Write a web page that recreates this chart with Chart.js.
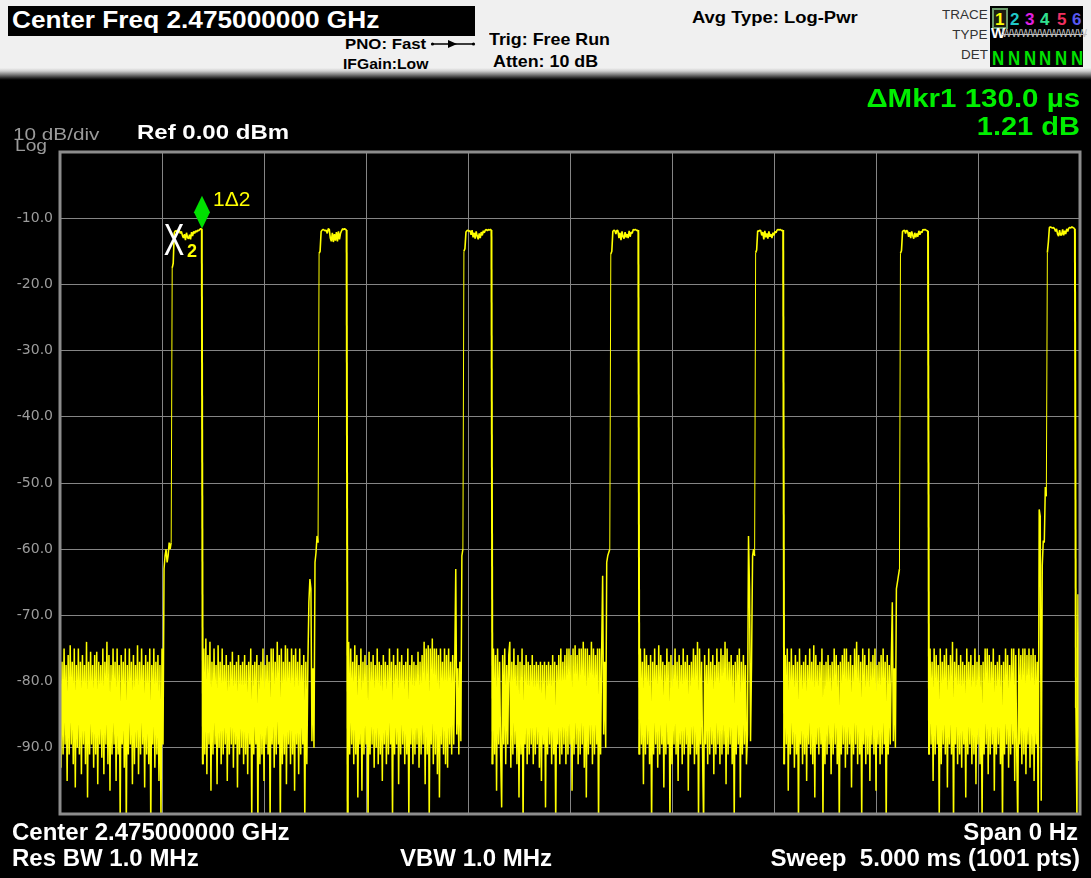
<!DOCTYPE html>
<html>
<head>
<meta charset="utf-8">
<script src="https://cdn.jsdelivr.net/npm/chart.js@4.4.1/dist/chart.umd.min.js"></script>
<style>
  html, body { margin: 0; padding: 0; }
  body { width: 1091px; height: 878px; background: #000; position: relative; overflow: hidden; font-family: 'Liberation Sans', Arial, sans-serif; }
  .t { position: absolute; white-space: pre; }
  #hdr { position: absolute; left: 0; top: 0; width: 1091px; height: 70px; background: #f0f0f0; }
  #bevel { position: absolute; left: 0; top: 68px; width: 1091px; height: 12px;
           background: linear-gradient(to bottom, #f0f0f0 0%, #cfcfcf 25%, #7c7c7c 55%, #222 85%, #000 100%); }
  #freqBox { position: absolute; left: 8px; top: 6px; width: 467px; height: 30px; background: #000; }
  #traceBox { position: absolute; left: 990px; top: 6px; width: 93px; height: 61px; background: #000; }
  #oneBox { position: absolute; left: 992px; top: 8px; width: 12px; height: 17px; border: 2px solid #6a9a6a; background: #1c1c10; }
  #chartWrap { position: absolute; left: 0; top: 100px; width: 1091px; height: 740px; }
</style>
</head>
<body>
<div id="hdr"></div>
<div id="bevel"></div>
<div id="freqBox"></div>
<div id="traceBox"></div>
<div id="oneBox"></div>
<svg style="position:absolute;left:430px;top:39px" width="46" height="10">
  <line x1="2" y1="5" x2="44" y2="5" stroke="#000" stroke-width="1.4"/>
  <polygon points="18,1 27,5 18,9" fill="#000"/>
  <circle cx="2.5" cy="5" r="1.6" fill="#000"/>
  <circle cx="43.5" cy="5" r="1.6" fill="#000"/>
</svg>
<div id="chartWrap"><canvas id="trace" width="1091" height="740"></canvas></div>

<script>
// sweep: 5 ms, 1001 points, one every 5 us
const sweepUs = 5000;
const stepUs = 5;
const gridStepUs = 500;

const yTickLabels = ['-10.0', '-20.0', '-30.0', '-40.0', '-50.0', '-60.0', '-70.0', '-80.0', '-90.0'];

// noise floor between bursts (dBm)
const noiseFloors = [
  [-75, -93, -77, -91, -75, -89.5, -77.5, -95, -76, -91, -74.5, -89.5, -77, -92.5, -75, -96, -77.5, -90, -75, -91,
   -77, -94, -76, -89.5, -77.5, -92.5, -74, -97.5, -77, -91, -75.5, -89.5, -77.5, -93, -76, -91, -75.5, -95.5, -77, -89.5,
   -77.5, -91.5, -75, -94, -77, -89.5, -74, -92.5, -76, -96.5, -77.5, -91, -75, -89.5, -77, -95, -75, -91, -77.5, -101,
   -76, -89.5, -77, -93, -75, -102, -77.5, -91, -75, -89.5, -77, -95.5, -76, -92.5, -77.5, -90, -74.5, -94, -77, -91,
   -75, -89.5, -77.5, -96, -76, -91, -77, -92.5, -75, -102, -77.5, -89.5, -75, -93, -77, -91, -76, -95, -77.5, -101,
   -75, -89.5],
  [-92.5, -75, -91, -73.5, -94, -76, -89.5, -74, -96.5, -77, -91, -75, -89.5, -77.5, -95.5, -74.5, -90, -77, -92.5, -75,
   -91, -77.5, -89.5, -76, -95, -77.5, -91, -77, -89.5, -75.5, -93, -77.5, -89.5, -77, -96, -76, -91, -77.5, -90, -77,
   -92.5, -76, -91, -77.5, -94, -77, -89.5, -75, -101, -77.5, -91, -77, -89.5, -76, -102, -77.5, -92.5, -77, -91, -75,
   -95, -77.5, -89.5, -76, -91, -77, -101, -75, -89.5, -75, -93, -77, -91, -74, -89.5, -76, -102, -75, -92.5, -77,
   -91, -74.5, -95.5, -75, -89.5, -77, -92.5, -75, -91, -76, -96.5, -75, -89.5, -77, -94, -75, -91, -77.5, -89.5, -76,
   -101, -77, -92.5, -77.5],
  [-102, -74, -91, -75, -89.5, -77, -92.5, -74.5, -91, -76, -97.5, -77.5, -89.5, -75, -96.5, -77, -91, -76, -89.5, -77.5,
   -102, -75.5, -91, -77, -89.5, -76, -93, -77.5, -90, -75, -92.5, -77, -91, -77.5, -95, -76, -89.5, -77, -92.5, -77.5,
   -91, -75, -89.5, -77, -101, -76, -91, -77.5, -89.5, -75, -95.5, -77, -91, -76, -89.5, -77.5, -92.5, -77, -91, -75,
   -101, -77.5, -89.5, -76, -92.5, -77, -91, -77.5, -89.5, -75.5, -93, -77, -91, -76, -89.5, -74, -95.5, -75, -91, -74.5,
   -101, -75, -89.5, -73.5, -92.5, -75, -91, -75, -94, -76, -97.5, -75, -89.5, -77, -91, -75, -92.5, -76, -93, -75,
   -89.5, -77, -91, -76, -89.5, -77.5],
  [-92.5, -75, -91, -76, -96.5, -75, -89.5, -77, -91, -99, -76, -89.5, -75, -92.5, -77.5, -89.5, -76, -74, -93, -77,
   -91, -75, -89.5, -77.5, -92.5, -76, -97.5, -77, -91, -75, -102, -77.5, -89.5, -76, -92.5, -77, -91, -77.5, -89.5, -76,
   -92.5, -77.5, -91, -77, -89.5, -77.5, -93, -77, -95, -77.5, -89.5, -77, -99, -77.5, -91, -77, -89.5, -77.5, -92.5, -76,
   -91, -77, -102, -77.5, -89.5, -76, -92.5, -75, -91, -77, -89.5, -76, -92.5, -75, -91, -75, -89.5, -76, -96.5, -75,
   -91, -74.5, -89.5, -76, -92.5, -75, -91, -75, -89.5, -74, -93, -75, -97.5, -75, -91, -76, -89.5, -74, -92.5, -75,
   -91, -76, -89.5, -75, -102, -75, -91, -76],
  [-91, -75, -89.5, -77, -95.5, -75, -91, -76, -89.5, -77.5, -92.5, -76, -102, -77, -91, -75, -89.5, -77.5, -93, -74.5,
   -91, -76, -89.5, -77, -96, -77.5, -91, -75, -89.5, -77, -102, -76, -92.5, -77.5, -89.5, -75, -91, -77, -95, -76,
   -89.5, -77.5, -92.5, -75, -91, -77, -89.5, -76, -96.5, -77.5, -91, -77, -89.5, -75, -92.5, -76, -91, -74, -101, -75,
   -89.5, -77, -91, -102, -76, -89.5, -77.5, -92.5, -75, -91, -77, -89.5, -76, -94, -77.5, -91, -75, -89.5, -77, -92.5,
   -75, -91, -76, -89.5, -74, -95.5, -75, -91, -77, -89.5, -76, -92.5, -77.5, -101, -77, -91, -76, -89.5, -75, -97.5,
   -77, -91, -76, -89.5, -77.5, -92.5],
  [-92.5, -76, -89.5, -75, -96.5, -77, -91, -75, -89.5, -77.5, -93, -76, -91, -77, -102, -75, -89.5, -77.5, -92.5, -77,
   -91, -76, -95, -77.5, -89.5, -75, -91, -77, -92.5, -74.5, -97.5, -76, -89.5, -77.5, -91, -77, -89.5, -75, -101, -77.5,
   -92.5, -77, -91, -76, -89.5, -77.5, -94, -77, -91, -75, -89.5, -76, -92.5, -77.5, -102, -77, -91, -76, -89.5, -75,
   -93, -75, -91, -77, -89.5, -76, -96, -77.5, -91, -75, -89.5, -74, -92.5, -76, -91, -77, -101, -75, -89.5, -76,
   -92.5, -77.5, -91, -75, -95, -77, -89.5, -76, -91, -75, -96.5, -77.5, -89.5, -77, -92.5, -76, -91, -75, -89.5, -77,
   -102, -76, -91, -77.5, -89.5, -77],
  [-91, -75, -89.5, -77, -95, -75, -91, -76, -89.5, -77.5, -101, -75, -92.5, -77, -89.5, -76, -91, -75, -96, -77.5,
   -89.5, -76, -91, -74, -102, -77, -89.5, -75, -92.5, -77.5, -91, -76, -93, -77, -89.5, -77.5, -97.5, -75, -91, -77,
   -89.5, -76, -92.5, -77.5, -91, -75, -95.5, -77, -89.5, -76, -92.5, -77.5, -101, -77, -91, -75, -89.5, -75, -94, -76,
   -91, -77, -89.5, -75, -96.5, -77.5, -91, -77, -89.5, -76, -92.5, -77.5, -102, -77, -91, -75, -89.5, -76, -93, -77.5,
   -91, -75, -89.5, -75, -95, -76, -91, -102, -75, -89.5, -76, -92.5, -75, -91, -75, -94, -76, -89.5, -75, -93,
   -76, -91, -75, -95, -76, -89.5, -77, -102]
];

// small steps just before each burst rises
const leadIns = [
  [-63, -61, -60, -62, -61, -59, -60, -59],
  [-68, -64.5, -66, -89, -78, -90, -62, -60.5, -58, -59],
  [-63, -88, -78, -91, -77, -89, -61, -60],
  [-64, -88, -77, -90, -62, -61, -60.5, -60],
  [-88, -58, -66, -89, -77, -61, -60, -61],
  [-68, -89, -78, -90, -66, -65, -64, -63],
  [-54, -55, -98, -62.5, -58.7, -59, -50.6, -52]
];

// burst rise + flat top
const pulseTops = [
  [-17.5, -16.8, -12.2, -11.9, -12.0, -11.8, -12.1, -11.9, -12.3, -12.0, -12.6, -13.0, -12.4, -13.3, -12.2,
   -12.9, -13.1, -12.5, -13.2, -12.1, -12.7, -12.0, -12.3, -11.9, -12.1, -11.8, -11.9, -11.7, -11.6, -11.6],
  [-15.3, -15.0, -12.0, -11.8, -11.7, -11.8, -11.9, -11.8, -12.3, -11.6, -11.7, -13.0, -13.5, -12.2,
   -13.6, -12.4, -13.4, -12.1, -13.5, -12.0, -13.2, -12.3, -11.9, -11.6, -11.7, -11.6, -11.7, -11.8],
  [-15.0, -14.6, -12.1, -11.9, -11.8, -12.0, -11.9, -12.5, -11.8, -12.9, -12.2, -13.1, -12.0, -12.7,
   -13.2, -12.3, -13.0, -12.1, -12.6, -11.9, -12.2, -11.8, -11.7, -11.9, -11.7, -11.8, -11.7, -11.8],
  [-15.4, -15.0, -12.0, -11.8, -11.9, -12.4, -11.8, -11.9, -13.0, -12.2, -13.3, -12.0, -12.8, -13.1,
   -12.1, -12.9, -12.4, -13.0, -11.9, -12.8, -12.1, -12.3, -11.7, -11.8, -11.7, -11.8, -11.9, -11.8],
  [-15.2, -14.8, -11.9, -12.0, -11.8, -11.9, -12.6, -12.1, -13.2, -11.9, -12.9, -12.3, -13.1, -12.0,
   -12.8, -12.4, -13.0, -12.2, -12.6, -12.0, -12.2, -11.8, -11.7, -11.8, -11.7, -11.8, -11.9, -11.8],
  [-15.3, -14.9, -12.0, -11.9, -11.8, -12.3, -11.8, -12.0, -12.8, -12.1, -13.0, -12.0, -12.6, -13.1,
   -12.2, -12.9, -12.3, -12.8, -11.9, -12.5, -12.0, -12.2, -11.7, -11.8, -11.7, -11.8, -11.9, -11.9],
  [-15.2, -13.6, -11.4, -11.3, -11.4, -11.5, -11.4, -11.6, -12.0, -11.6, -12.4, -12.7, -11.8, -12.6,
   -12.5, -11.7, -12.6, -11.9, -12.4, -11.6, -12.0, -11.5, -11.4, -11.5, -11.3, -11.4, -11.5, -11.6]
];

const tailDbm = [-84, -101, -66.8, -92, -64.8];

// markers: [1 (delta), 2 (reference)]
const markerUs = [696, 566];
const markerDbm = [-11.6, -12.81];

const traceDbm = [];
for (let k = 0; k < noiseFloors.length; k++) {
    traceDbm.push(...noiseFloors[k], ...leadIns[k], ...pulseTops[k]);
}
traceDbm.push(...tailDbm);
const tracePoints = traceDbm.map((v, i) => ({ x: i * stepUs, y: v }));

// text around the screen
const screenText = [
    { text: 'Center Freq 2.475000000 GHz', x: 12, base: 28.5, size: 23, bold: true, color: '#fff', sx: 1.14 },
    { text: 'PNO: Fast', x: 345, base: 49.3, size: 14, bold: true, color: '#000', sx: 1.2 },
    { text: 'IFGain:Low', x: 343, base: 69.3, size: 14, bold: true, color: '#000', sx: 1.12 },
    { text: 'Trig: Free Run', x: 489, base: 45, size: 17, bold: true, color: '#000', sx: 1.05 },
    { text: 'Atten: 10 dB', x: 493, base: 67.7, size: 17, bold: true, color: '#000', sx: 1.05 },
    { text: 'Avg Type: Log-Pwr', x: 692, base: 23.3, size: 16, bold: true, color: '#000', sx: 1.15 },
    { text: 'TRACE', x: 987.5, base: 19.3, size: 12, color: '#333', sx: 1.12, right: true },
    { text: 'TYPE', x: 987.5, base: 38.7, size: 12, color: '#333', sx: 1.12, right: true },
    { text: 'DET', x: 987.5, base: 58.7, size: 12, color: '#333', sx: 1.12, right: true },
    { text: '1', x: 995, base: 25, size: 17, bold: true, color: '#ffff00' },
    { text: '2', x: 1010, base: 25, size: 17, bold: true, color: '#20c8c8' },
    { text: '3', x: 1025, base: 25, size: 17, bold: true, color: '#e020e0' },
    { text: '4', x: 1040, base: 25, size: 17, bold: true, color: '#30e090' },
    { text: '5', x: 1057, base: 25, size: 17, bold: true, color: '#f03060' },
    { text: '6', x: 1072, base: 25, size: 17, bold: true, color: '#5858f0' },
    { text: 'W', x: 991, base: 38, size: 15, bold: true, color: '#fff' },
    { text: 'WWWWWWWWW', x: 1002, base: 37.5, size: 10, color: '#c0c0c0', strike: true },
    { text: 'N', x: 992, base: 65, size: 21, bold: true, color: '#00e000', sx: 0.8 },
    { text: 'N', x: 1007.8, base: 65, size: 21, bold: true, color: '#00e000', sx: 0.8 },
    { text: 'N', x: 1023.6, base: 65, size: 21, bold: true, color: '#00e000', sx: 0.8 },
    { text: 'N', x: 1039.4, base: 65, size: 21, bold: true, color: '#00e000', sx: 0.8 },
    { text: 'N', x: 1055.2, base: 65, size: 21, bold: true, color: '#00e000', sx: 0.8 },
    { text: 'N', x: 1071, base: 65, size: 21, bold: true, color: '#00e000', sx: 0.8 },
    { text: '\u0394Mkr1 130.0 \u00b5s', x: 1080, base: 107.3, size: 25, bold: true, color: '#00ee00', sx: 1.18, right: true },
    { text: '1.21 dB', x: 1080, base: 135, size: 25, bold: true, color: '#00ee00', sx: 1.16, right: true },
    { text: '10 dB/div', x: 13.3, base: 140, size: 17, color: '#9a9a9a', sx: 1.22 },
    { text: 'Log', x: 15, base: 152, size: 16, color: '#9a9a9a', sx: 1.2 },
    { text: 'Ref 0.00 dBm', x: 136.7, base: 139.3, size: 20, bold: true, color: '#fff', sx: 1.2 },
    { text: 'Center 2.475000000 GHz', x: 12, base: 840, size: 24, bold: true, color: '#fff' },
    { text: 'Span 0 Hz', x: 1078, base: 840, size: 24, bold: true, color: '#fff', right: true },
    { text: 'Res BW 1.0 MHz', x: 12, base: 866, size: 24, bold: true, color: '#fff' },
    { text: 'VBW 1.0 MHz', x: 400, base: 866, size: 24, bold: true, color: '#fff' },
    { text: 'Sweep  5.000 ms (1001 pts)', x: 1080, base: 866, size: 24, bold: true, color: '#fff', right: true }
];

screenText.forEach(l => {
    const d = document.createElement('div');
    d.className = 't';
    d.textContent = l.text;
    d.style.font = (l.bold ? 'bold ' : '') + l.size + 'px "Liberation Sans", Arial, sans-serif';
    d.style.lineHeight = '1';
    d.style.color = l.color;
    d.style.top = (l.base - 0.8465 * l.size) + 'px';
    if (l.strike) d.style.textDecoration = 'line-through';
    if (l.right) {
        d.style.right = (1091 - l.x) + 'px';
        d.style.transformOrigin = '100% 0';
    } else {
        d.style.left = l.x + 'px';
        d.style.transformOrigin = '0 0';
    }
    d.style.transform = 'scaleX(' + (l.sx || 1) + ')';
    document.body.appendChild(d);
});

// noise floor a little heavier, rising edges thin, falling edges thicker
function segWidth(c) {
    const a = traceDbm[c.p0DataIndex], b = traceDbm[c.p1DataIndex];
    if (a < -50 && b < -50) return 1.5;
    if (a > -20 && b > -20) return 1.6;
    if (a > b) return 2;
    return 1;
}

const frameAndMarkers = {
    id: 'frameAndMarkers',
    afterDatasetsDraw(chart) {
        const { ctx, chartArea: a, scales: { x, y } } = chart;
        ctx.save();
        ctx.strokeStyle = '#8c8c8c';
        ctx.lineWidth = 3;
        ctx.strokeRect(a.left, a.top, a.right - a.left, a.bottom - a.top);

        // delta marker 1
        const mx = x.getPixelForValue(markerUs[0]);
        const my = y.getPixelForValue(markerDbm[0]);
        ctx.fillStyle = '#00e000';
        ctx.beginPath();
        ctx.moveTo(mx, my);
        ctx.lineTo(mx + 8, my - 16.5);
        ctx.lineTo(mx, my - 33);
        ctx.lineTo(mx - 8, my - 16.5);
        ctx.closePath();
        ctx.fill();
        ctx.fillStyle = '#ffff00';
        ctx.textBaseline = 'alphabetic';
        ctx.font = '21px "Liberation Sans", Arial, sans-serif';
        ctx.fillText('1\u03942', mx + 11, my - 23);

        // reference marker 2
        const rx = x.getPixelForValue(markerUs[1]);
        const ry = y.getPixelForValue(markerDbm[1]);
        ctx.save();
        ctx.translate(rx - 11.8, ry + 18);
        ctx.scale(0.7, 1);
        ctx.fillStyle = '#ffffff';
        ctx.font = '44px "Liberation Sans", Arial, sans-serif';
        ctx.fillText('X', 0, 0);
        ctx.restore();
        ctx.fillStyle = '#ffff00';
        ctx.font = 'bold 18px "Liberation Sans", Arial, sans-serif';
        ctx.fillText('2', rx + 11.5, ry + 20);
        ctx.restore();
    }
};

document.addEventListener('DOMContentLoaded', () => {
    const ctx = document.getElementById('trace');
    new Chart(ctx, {
        type: 'line',
        data: {
            datasets: [{
                data: tracePoints,
                borderColor: '#ffff00',
                borderWidth: 1.3,
                borderJoinStyle: 'bevel',
                pointRadius: 0,
                tension: 0,
                clip: 0,
                segment: { borderWidth: segWidth }
            }]
        },
        options: {
            responsive: false,
            animation: false,
            devicePixelRatio: 1,
            parsing: false,
            layout: { padding: { left: 0, right: 11, top: 52, bottom: 26 } },
            plugins: { legend: { display: false }, tooltip: { enabled: false } },
            scales: {
                x: {
                    type: 'linear',
                    min: 0,
                    max: sweepUs,
                    ticks: { display: false, stepSize: gridStepUs },
                    grid: { color: '#858585', lineWidth: 1, drawTicks: false },
                    border: { display: false },
                    afterFit: s => { s.height = 0; }
                },
                y: {
                    min: -100,
                    max: 0,
                    ticks: {
                        stepSize: 10,
                        padding: 7,
                        color: '#9c9c9c',
                        font: { family: 'DejaVu Sans', size: 14 },
                        callback: v => {
                            const lbl = v.toFixed(1);
                            return yTickLabels.includes(lbl) ? lbl : '';
                        }
                    },
                    grid: { color: '#858585', lineWidth: 1, drawTicks: false },
                    border: { display: false },
                    afterFit: s => { s.width = 60; }
                }
            }
        },
        plugins: [frameAndMarkers]
    });
});
</script>
</body>
</html>
